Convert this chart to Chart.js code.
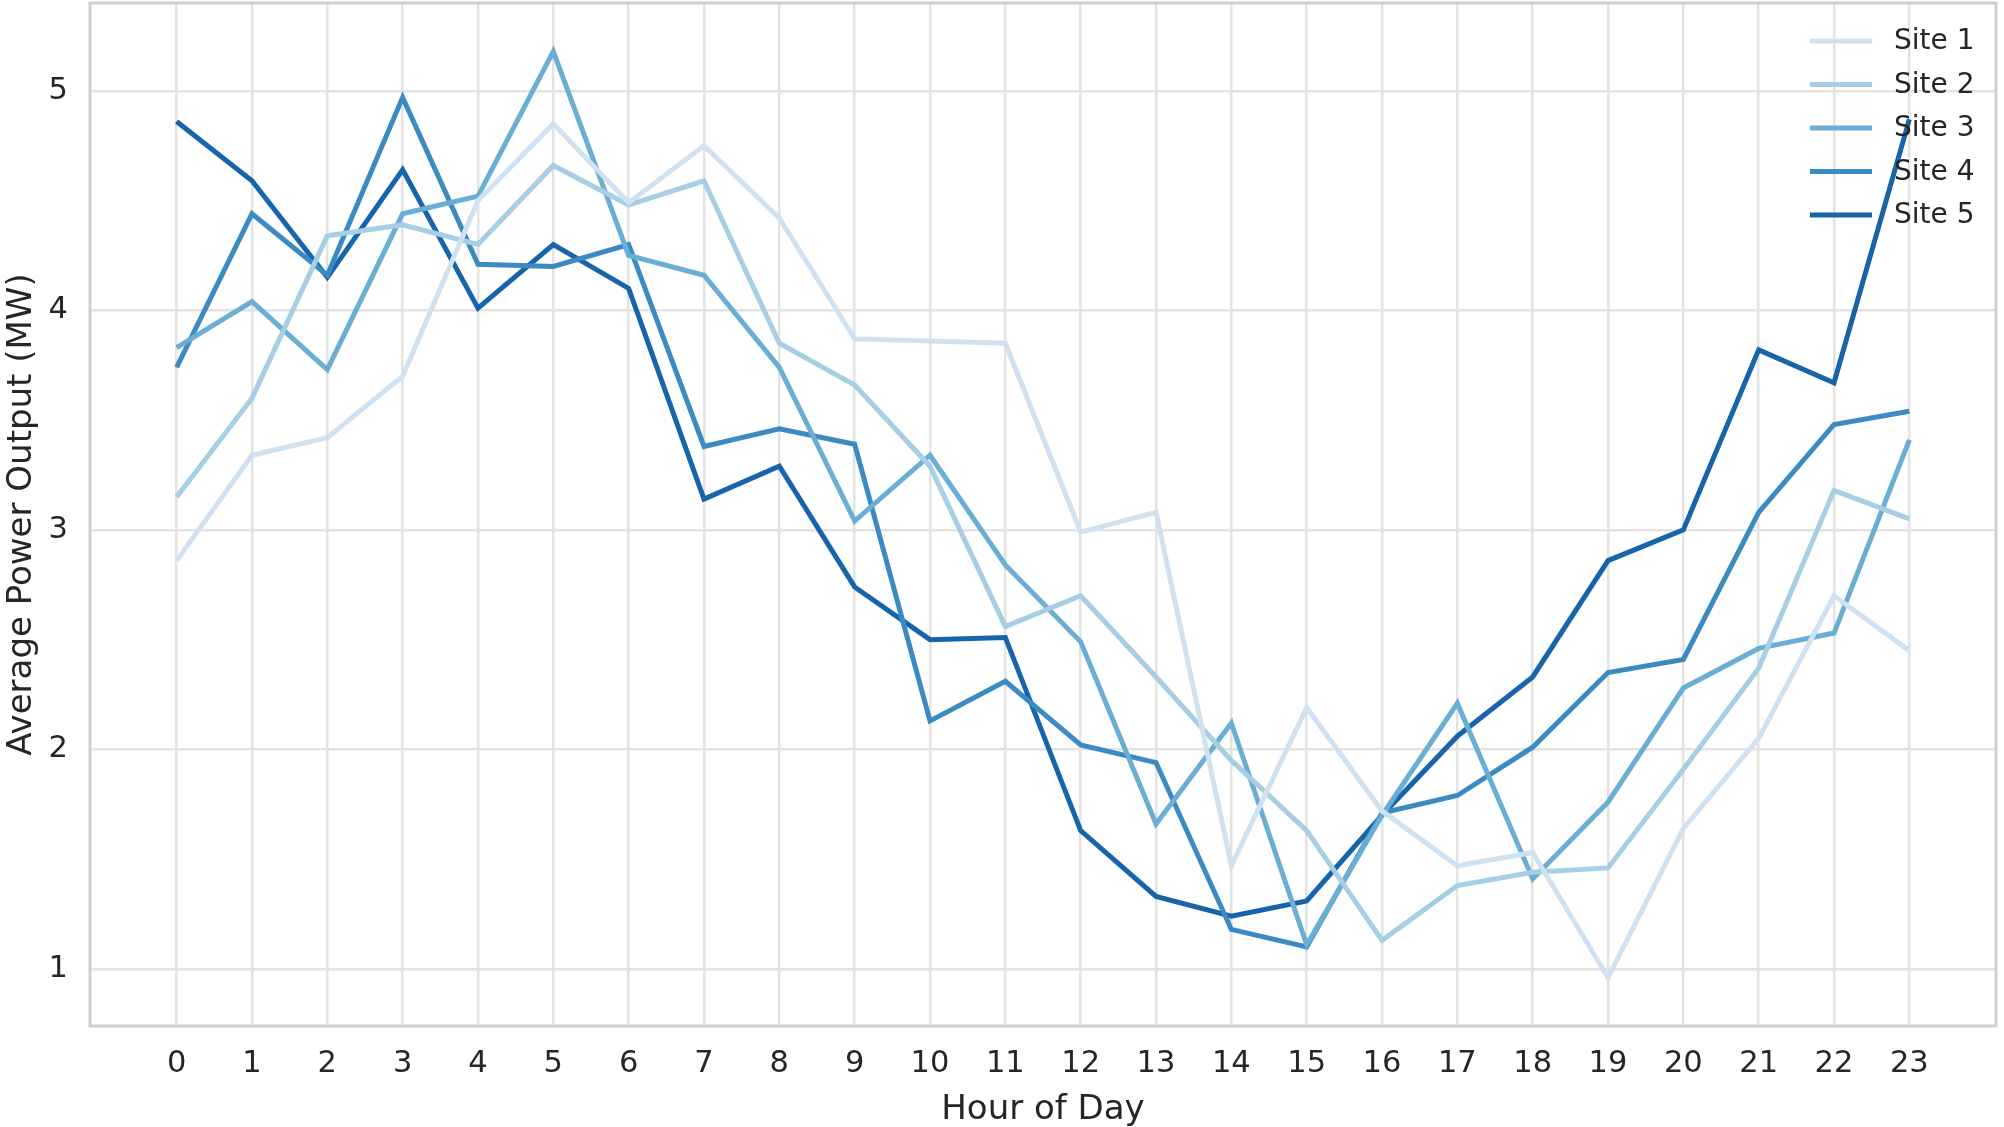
<!DOCTYPE html>
<html>
<head>
<meta charset="utf-8">
<script src="https://cdn.jsdelivr.net/npm/chart.js@4.4.1/dist/chart.umd.min.js"></script>
<style>
  html, body { margin: 0; padding: 0; background: #ffffff; }
  #wrap { width: 2004px; height: 1127px; }
</style>
</head>
<body>
<div id="wrap"><canvas id="power-chart" width="2004" height="1127"></canvas></div>
<script>
const hours = [0, 1, 2, 3, 4, 5, 6, 7, 8, 9, 10, 11, 12, 13, 14, 15, 16, 17, 18, 19, 20, 21, 22, 23];
const siteNames = ['Site 1', 'Site 2', 'Site 3', 'Site 4', 'Site 5'];

const site1 = [2.86, 3.34, 3.42, 3.70, 4.50, 4.85, 4.49, 4.75, 4.42, 3.87, 3.86, 3.85, 2.99, 3.08, 1.47, 2.19, 1.72, 1.47, 1.53, 0.96, 1.64, 2.05, 2.70, 2.45];
const site2 = [3.15, 3.60, 4.34, 4.39, 4.30, 4.66, 4.48, 4.59, 3.85, 3.66, 3.29, 2.56, 2.70, 2.33, 1.95, 1.63, 1.13, 1.38, 1.44, 1.46, 1.91, 2.37, 3.18, 3.05];
const site3 = [3.83, 4.04, 3.73, 4.44, 4.52, 5.18, 4.25, 4.16, 3.74, 3.04, 3.34, 2.84, 2.49, 1.66, 2.12, 1.11, 1.70, 2.21, 1.41, 1.76, 2.28, 2.46, 2.53, 3.41];
const site4 = [3.74, 4.44, 4.16, 4.97, 4.21, 4.20, 4.30, 3.38, 3.46, 3.39, 2.13, 2.31, 2.02, 1.94, 1.18, 1.10, 1.71, 1.79, 2.01, 2.35, 2.41, 3.08, 3.48, 3.54];
const site5 = [4.86, 4.59, 4.15, 4.64, 4.01, 4.30, 4.10, 3.14, 3.29, 2.74, 2.50, 2.51, 1.63, 1.33, 1.24, 1.31, 1.70, 2.06, 2.33, 2.86, 3.00, 3.82, 3.67, 4.87];

const yTicks = [1, 2, 3, 4, 5];
const xRange = [-1.15, 24.15];
const yRange = [0.74, 5.40];

const siteColors = ['#d0e1f2', '#a6cee4', '#6aaed6', '#3b8bc2', '#1764ab'];
const textColor = '#262626';
const font = 'DejaVu Sans';

const allSites = [site1, site2, site3, site4, site5];

// legend drawn inside the plot, top right, no frame (like matplotlib)
const insideLegend = {
    id: 'insideLegend',
    afterDatasetsDraw(chart) {
        const { ctx, chartArea } = chart;
        ctx.save();
        ctx.font = '28px "' + font + '"';
        ctx.textBaseline = 'middle';
        ctx.textAlign = 'left';
        chart.data.datasets.forEach((ds, i) => {
            const y = chartArea.top + 38 + i * 43.5;
            const x0 = chartArea.right - 186;
            ctx.strokeStyle = ds.borderColor;
            ctx.lineWidth = 5;
            ctx.beginPath();
            ctx.moveTo(x0, y);
            ctx.lineTo(x0 + 62, y);
            ctx.stroke();
            ctx.fillStyle = textColor;
            ctx.fillText(ds.label, x0 + 84, y + 1);
        });
        ctx.restore();
    }
};

// frame on all four sides
const frame = {
    id: 'frame',
    afterDraw(chart) {
        const { ctx, chartArea } = chart;
        ctx.save();
        ctx.strokeStyle = '#cfcfcf';
        ctx.lineWidth = 3;
        ctx.strokeRect(chartArea.left, chartArea.top, chartArea.right - chartArea.left, chartArea.bottom - chartArea.top);
        ctx.restore();
    }
};

new Chart(document.getElementById('power-chart').getContext('2d'), {
    type: 'line',
    data: {
        datasets: siteNames.map((name, i) => ({
            label: name,
            data: hours.map((h, j) => ({ x: h, y: allSites[i][j] })),
            borderColor: siteColors[i],
            borderWidth: 5,
            pointRadius: 0,
            tension: 0,
            fill: false
        }))
    },
    options: {
        responsive: false,
        devicePixelRatio: 1,
        animation: false,
        layout: { padding: { top: 3, right: 8, left: 0, bottom: 0 } },
        plugins: {
            legend: { display: false },
            tooltip: { enabled: false }
        },
        scales: {
            x: {
                type: 'linear',
                min: xRange[0],
                max: xRange[1],
                afterBuildTicks: (scale) => { scale.ticks = hours.map(h => ({ value: h })); },
                afterFit: (scale) => {
                    scale.height = 101;
                    scale.paddingLeft = 0;
                    scale.paddingRight = 0;
                },
                grid: { color: '#e3e3e3', lineWidth: 2.5, drawTicks: false },
                border: { display: false },
                ticks: {
                    color: textColor,
                    font: { family: font, size: 30.5 },
                    padding: 20,
                    maxRotation: 0,
                    autoSkip: false
                },
                title: {
                    display: true,
                    text: 'Hour of Day',
                    color: textColor,
                    font: { family: font, size: 34, lineHeight: 1.0 },
                    padding: { top: 0, bottom: 0 }
                }
            },
            y: {
                type: 'linear',
                min: yRange[0],
                max: yRange[1],
                afterBuildTicks: (scale) => { scale.ticks = yTicks.map(v => ({ value: v })); },
                afterFit: (scale) => {
                    scale.width = 90;
                    scale.paddingTop = 0;
                    scale.paddingBottom = 0;
                },
                grid: { color: '#e3e3e3', lineWidth: 2.5, drawTicks: false },
                border: { display: false },
                ticks: {
                    color: textColor,
                    font: { family: font, size: 30.5 },
                    padding: 22
                },
                title: {
                    display: true,
                    text: 'Average Power Output (MW)',
                    color: textColor,
                    font: { family: font, size: 34, lineHeight: 1.2 },
                    padding: { top: 2, bottom: 0 }
                }
            }
        }
    },
    plugins: [insideLegend, frame]
});
</script>
</body>
</html>
